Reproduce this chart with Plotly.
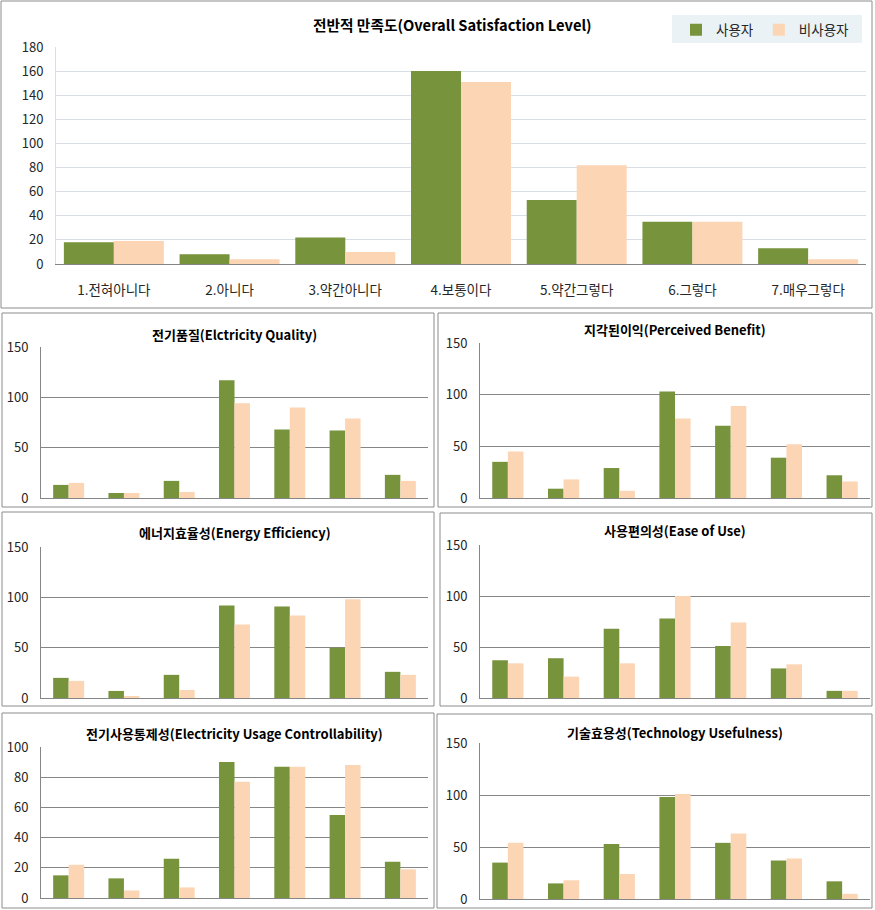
import plotly.graph_objects as go

W, H = 875, 910

categories = ["1.전혀아니다", "2.아니다", "3.약간아니다", "4.보통이다", "5.약간그렇다", "6.그렇다", "7.매우그렇다"]
series_names = ["사용자", "비사용자"]

overall_users = [18, 8, 22, 160, 53, 35, 13]
overall_nonusers = [19, 4, 10, 151, 82, 35, 4]
quality_users = [13, 5, 17, 117, 68, 67, 23]
quality_nonusers = [15, 5, 6, 94, 90, 79, 17]
benefit_users = [35, 9, 29, 103, 70, 39, 22]
benefit_nonusers = [45, 18, 7, 77, 89, 52, 16]
efficiency_users = [20, 7, 23, 92, 91, 50, 26]
efficiency_nonusers = [17, 2, 8, 73, 82, 98, 23]
ease_users = [37, 39, 68, 78, 51, 29, 7]
ease_nonusers = [34, 21, 34, 100, 74, 33, 7]
control_users = [15, 13, 26, 90, 87, 55, 24]
control_nonusers = [22, 5, 7, 77, 87, 88, 19]
tech_users = [35, 15, 53, 98, 54, 37, 17]
tech_nonusers = [54, 18, 24, 101, 63, 39, 5]

GREEN = "#77933c"
PEACH = "#fcd5b5"
FONT = "Noto Sans CJK KR"


def fx(x):
    return x / W


def fy(y):
    return 1 - y / H


# title, users, nonusers, y max, dtick, frame box, plot box, title y (all pixels)
panels = [
    ("전반적 만족도(Overall Satisfaction Level)", overall_users, overall_nonusers, 180, 20,
     (1, 1, 872, 308), (56, 47, 866, 264), 24),
    ("전기품질(Elctricity Quality)", quality_users, quality_nonusers, 150, 50,
     (2, 313, 434, 507), (41, 347, 428, 498), 334),
    ("지각된이익(Perceived Benefit)", benefit_users, benefit_nonusers, 150, 50,
     (438, 313, 872, 507), (480, 343, 870, 498), 329),
    ("에너지효율성(Energy Efficiency)", efficiency_users, efficiency_nonusers, 150, 50,
     (2, 512, 434, 706), (41, 547, 428, 698), 532),
    ("사용편의성(Ease of Use)", ease_users, ease_nonusers, 150, 50,
     (440, 513, 872, 706), (480, 545, 870, 698), 530),
    ("전기사용통제성(Electricity Usage Controllability)", control_users, control_nonusers, 100, 20,
     (2, 713, 434, 908), (41, 747, 428, 898), 733),
    ("기술효용성(Technology Usefulness)", tech_users, tech_nonusers, 150, 50,
     (437, 714, 872, 908), (480, 743, 870, 899), 732),
]

fig = go.Figure()
shapes = []
annotations = []

for i, (title, users, nonusers, ymax, dtick, frame, box, ty) in enumerate(panels):
    n = "" if i == 0 else str(i + 1)
    top = i == 0
    w = 0.432 if top else 0.28
    for name, vals, color, off in [(series_names[0], users, GREEN, -w), (series_names[1], nonusers, PEACH, 0)]:
        fig.add_trace(go.Bar(
            x=categories, y=vals, name=name, marker=dict(color=color, line=dict(width=0)),
            width=w, offset=off, xaxis="x" + n, yaxis="y" + n,
            showlegend=top, hoverinfo="x+y+name",
        ))
    x0, y0, x1, y1 = box
    grid = "#d9dee6" if top else "#868686"
    fig.layout["xaxis" + n] = dict(
        domain=[fx(x0), fx(x1)], anchor="y" + n, type="category",
        showticklabels=top, ticks="", showgrid=False, showline=True,
        linecolor="#868686", linewidth=1, zeroline=False,
        tickfont=dict(family=FONT, size=13.5, color="#262626"),
        ticklabelstandoff=14 if top else 0, fixedrange=True, automargin=False,
    )
    fig.layout["yaxis" + n] = dict(
        domain=[fy(y1), fy(y0)], anchor="x" + n, range=[0, ymax], dtick=dtick,
        showgrid=True, gridcolor=grid, gridwidth=1, showline=True,
        linecolor="#d9dee6" if top else "#868686", linewidth=1, zeroline=False,
        ticks="", tickfont=dict(family=FONT, size=13, color="#262626"),
        ticklabelstandoff=9, fixedrange=True, automargin=False,
    )
    fx0, fy0, fx1, fy1 = frame
    shapes.append(dict(type="rect", xref="paper", yref="paper",
                       x0=fx(fx0), x1=fx(fx1), y0=fy(fy1), y1=fy(fy0),
                       line=dict(color="#8c8c8c", width=1), layer="below"))
    annotations.append(dict(
        text="<b>" + title + "</b>", xref="paper", yref="paper",
        x=fx((x0 + x1) / 2) if not top else fx(452), y=fy(ty),
        xanchor="center", yanchor="middle", showarrow=False,
        font=dict(family=FONT, size=14.7 if top else 13, color="#000000"),
    ))

# legend background
shapes.append(dict(type="rect", xref="paper", yref="paper",
                   x0=fx(672), x1=fx(862), y0=fy(43), y1=fy(15),
                   fillcolor="#eaf2f5", line=dict(width=0), layer="below"))

fig.update_layout(
    width=W, height=H,
    margin=dict(l=0, r=0, t=0, b=0, pad=0, autoexpand=False),
    paper_bgcolor="white", plot_bgcolor="white",
    barmode="group",
    shapes=shapes, annotations=annotations,
    font=dict(family=FONT, size=12, color="#262626"),
    legend=dict(orientation="h", x=fx(676), y=fy(30), xanchor="left", yanchor="middle",
                bgcolor="rgba(0,0,0,0)", font=dict(family=FONT, size=13.5, color="#262626"),
                itemwidth=30, itemclick=False, itemdoubleclick=False),
)

fig.write_html("out.html", config={"displayModeBar": False},
               post_script="document.body.style.margin='0px';")
